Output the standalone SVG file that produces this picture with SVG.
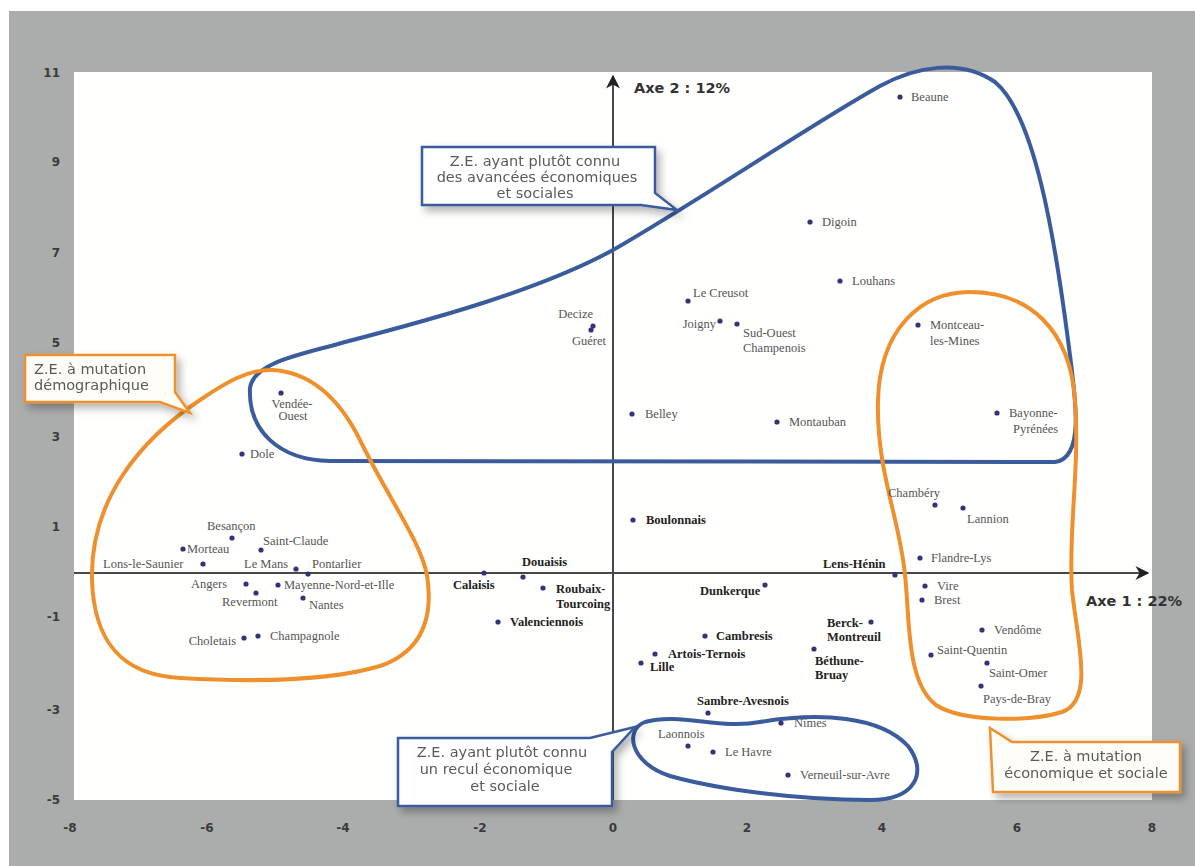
<svg xmlns="http://www.w3.org/2000/svg" width="1195" height="866" viewBox="0 0 1195 866">
<style>
.tick{font-family:"DejaVu Sans",sans-serif;font-size:12px;font-weight:bold;fill:#3a3a3a}
.axt{font-family:"DejaVu Sans",sans-serif;font-size:14.5px;font-weight:bold;fill:#333}
.co{font-family:"DejaVu Sans",sans-serif;font-size:14.5px;fill:#5a5a5a}
.lb{font-family:"Liberation Serif",serif;font-size:12.5px;fill:#555}
.bd{font-family:"Liberation Serif",serif;font-size:12.5px;font-weight:bold;fill:#222}
.pt{fill:#33337a}
.blue{fill:none;stroke:#3b5c9c;stroke-width:4}
.orange{fill:none;stroke:#ef902e;stroke-width:4}
.cb{fill:#fff;stroke:#3b5c9c;stroke-width:2.5}
.cbo{fill:#fffdf8;stroke:#ef902e;stroke-width:2.5}
.ax{stroke:#474747;stroke-width:2;fill:none}
</style>
<defs>
<marker id="arr" viewBox="0 0 10 10" refX="9" refY="5" markerWidth="7" markerHeight="7" orient="auto" markerUnits="strokeWidth">
<path d="M0,0 L10,5 L0,10 L3,5 Z" fill="#222"/>
</marker>
<filter id="sh" x="-10%" y="-20%" width="130%" height="160%">
<feDropShadow dx="4" dy="5" stdDeviation="4" flood-color="#000" flood-opacity="0.3"/>
</filter>
</defs>
<rect x="0" y="0" width="1195" height="866" fill="#fff"/>
<rect x="9" y="11" width="1186" height="855" fill="#abadac"/>
<rect x="74" y="72" width="1078" height="728" fill="#fffffd"/>
<g id="ticks">
<text class="tick" x="60" y="77" text-anchor="end">11</text>
<text class="tick" x="60" y="166" text-anchor="end">9</text>
<text class="tick" x="60" y="257" text-anchor="end">7</text>
<text class="tick" x="60" y="347" text-anchor="end">5</text>
<text class="tick" x="60" y="441" text-anchor="end">3</text>
<text class="tick" x="60" y="531" text-anchor="end">1</text>
<text class="tick" x="60" y="621" text-anchor="end">-1</text>
<text class="tick" x="60" y="714" text-anchor="end">-3</text>
<text class="tick" x="60" y="804" text-anchor="end">-5</text>
<text class="tick" x="70" y="832" text-anchor="middle">-8</text>
<text class="tick" x="207" y="832" text-anchor="middle">-6</text>
<text class="tick" x="343" y="832" text-anchor="middle">-4</text>
<text class="tick" x="480" y="832" text-anchor="middle">-2</text>
<text class="tick" x="613" y="832" text-anchor="middle">0</text>
<text class="tick" x="747" y="832" text-anchor="middle">2</text>
<text class="tick" x="882" y="832" text-anchor="middle">4</text>
<text class="tick" x="1017" y="832" text-anchor="middle">6</text>
<text class="tick" x="1152" y="832" text-anchor="middle">8</text>
</g>
<g id="connectors">
<path class="ax" d="M74,573 H1148" marker-end="url(#arr)"/>
<path class="ax" d="M613,800 V76" marker-end="url(#arr)"/>
</g>
<text class="axt" x="634" y="93">Axe 2 : 12%</text>
<text class="axt" x="1086" y="606">Axe 1 : 22%</text>
<g id="zones">
<path class="blue" d="M250,388 C254,362 300,355 345,342 C430,320 540,290 613,250 C700,200 810,125 880,86 C915,67 960,58 995,82 C1035,115 1055,240 1068,340 C1076,400 1085,458 1055,462 L330,461 C278,460 248,430 250,388 Z"/>
<path class="orange" d="M272,370 C312,372 340,400 360,440 C388,498 420,540 427,575 C434,620 420,652 380,666 C330,681 250,682 180,678 C120,675 94,640 92,580 C90,500 140,440 200,400 C225,383 248,369 272,370 Z"/>
<path class="orange" d="M970,292 C1030,292 1070,330 1075,400 C1080,470 1068,530 1072,590 C1077,640 1095,700 1062,712 C1030,722 962,722 936,705 C906,682 910,620 905,575 C900,520 876,470 878,400 C880,330 920,292 970,292 Z"/>
<path class="blue" d="M645,722 C680,712 720,730 760,722 C820,712 880,716 908,746 C928,772 916,800 870,800 C800,800 720,790 670,776 C630,763 624,730 645,722 Z"/>
</g>
<g id="callout-avancees" filter="url(#sh)">
<path class="cb" d="M422,147 H655 V193 L677,210 L641,205 H422 Z"/>
<text class="co" text-anchor="middle"><tspan x="535" y="166">Z.E. ayant plutôt connu</tspan><tspan x="537" y="182">des avancées économiques</tspan><tspan x="535" y="198">et sociales</tspan></text>
</g>
<g id="callout-demographique" filter="url(#sh)">
<path class="cbo" d="M25,355 H175 V392 L190,413 L160,402 H25 Z"/>
<text class="co"><tspan x="34" y="374">Z.E. à mutation</tspan><tspan x="34" y="390">démographique</tspan></text>
</g>
<g id="callout-recul" filter="url(#sh)">
<path class="cb" d="M398,738 H590 L635,727 L612,752 V806 H398 Z"/>
<text class="co" text-anchor="middle"><tspan x="502" y="757">Z.E. ayant plutôt connu</tspan><tspan x="496" y="774">un recul économique</tspan><tspan x="505" y="791">et sociale</tspan></text>
</g>
<g id="callout-economique" filter="url(#sh)">
<path class="cbo" d="M990,728 L1012,742 H1180 V792 H993 Z"/>
<text class="co" text-anchor="middle"><tspan x="1086" y="761">Z.E. à mutation</tspan><tspan x="1086" y="778">économique et sociale</tspan></text>
</g>
<g id="points">
<g id="beaune"><circle class="pt" cx="900" cy="97" r="2.6"/><text class="lb" x="911" y="101">Beaune</text></g>
<g id="digoin"><circle class="pt" cx="810" cy="222" r="2.6"/><text class="lb" x="822" y="226">Digoin</text></g>
<g id="louhans"><circle class="pt" cx="840" cy="281" r="2.6"/><text class="lb" x="852" y="285">Louhans</text></g>
<g id="le-creusot"><circle class="pt" cx="688" cy="301" r="2.6"/><text class="lb" x="693" y="297">Le Creusot</text></g>
<g id="joigny"><circle class="pt" cx="720" cy="321" r="2.6"/><text class="lb" x="716" y="328" text-anchor="end">Joigny</text></g>
<g id="sud-ouest-champenois"><circle class="pt" cx="737" cy="324" r="2.6"/><text class="lb"><tspan x="743" y="337">Sud-Ouest</tspan><tspan x="743" y="352">Champenois</tspan></text></g>
<g id="decize"><circle class="pt" cx="593" cy="326" r="2.6"/><text class="lb" x="593" y="318" text-anchor="end">Decize</text></g>
<g id="gueret"><circle class="pt" cx="591" cy="330" r="2.6"/><text class="lb" x="572" y="345">Guéret</text></g>
<g id="belley"><circle class="pt" cx="632" cy="414" r="2.6"/><text class="lb" x="645" y="418">Belley</text></g>
<g id="montauban"><circle class="pt" cx="777" cy="422" r="2.6"/><text class="lb" x="789" y="426">Montauban</text></g>
<g id="montceau"><circle class="pt" cx="918" cy="325" r="2.6"/><text class="lb"><tspan x="930" y="329">Montceau-</tspan><tspan x="930" y="345">les-Mines</tspan></text></g>
<g id="bayonne"><circle class="pt" cx="997" cy="413" r="2.6"/><text class="lb"><tspan x="1009" y="417">Bayonne-</tspan><tspan x="1013" y="433">Pyrénées</tspan></text></g>
<g id="vendee-ouest"><circle class="pt" cx="281" cy="393" r="2.6"/><text class="lb" text-anchor="middle"><tspan x="292" y="408">Vendée-</tspan><tspan x="293" y="420">Ouest</tspan></text></g>
<g id="dole"><circle class="pt" cx="242" cy="454" r="2.6"/><text class="lb" x="250" y="458">Dole</text></g>
<g id="chambery"><circle class="pt" cx="935" cy="505" r="2.6"/><text class="lb" x="888" y="497">Chambéry</text></g>
<g id="lannion"><circle class="pt" cx="963" cy="508" r="2.6"/><text class="lb" x="967" y="523">Lannion</text></g>
<g id="flandre-lys"><circle class="pt" cx="920" cy="558" r="2.6"/><text class="lb" x="931" y="562">Flandre-Lys</text></g>
<g id="vire"><circle class="pt" cx="925" cy="586" r="2.6"/><text class="lb" x="937" y="590">Vire</text></g>
<g id="brest"><circle class="pt" cx="922" cy="600" r="2.6"/><text class="lb" x="934" y="604">Brest</text></g>
<g id="vendome"><circle class="pt" cx="982" cy="630" r="2.6"/><text class="lb" x="994" y="634">Vendôme</text></g>
<g id="saint-quentin"><circle class="pt" cx="931" cy="655" r="2.6"/><text class="lb" x="937" y="654">Saint-Quentin</text></g>
<g id="saint-omer"><circle class="pt" cx="987" cy="663" r="2.6"/><text class="lb" x="989" y="677">Saint-Omer</text></g>
<g id="pays-de-bray"><circle class="pt" cx="981" cy="686" r="2.6"/><text class="lb" x="983" y="703">Pays-de-Bray</text></g>
<g id="nimes"><circle class="pt" cx="781" cy="723" r="2.6"/><text class="lb" x="794" y="727">Nîmes</text></g>
<g id="laonnois"><circle class="pt" cx="688" cy="746" r="2.6"/><text class="lb" x="658" y="738">Laonnois</text></g>
<g id="le-havre"><circle class="pt" cx="713" cy="752" r="2.6"/><text class="lb" x="725" y="756">Le Havre</text></g>
<g id="verneuil"><circle class="pt" cx="788" cy="775" r="2.6"/><text class="lb" x="800" y="779">Verneuil-sur-Avre</text></g>
<g id="sambre-avesnois"><circle class="pt" cx="708" cy="713" r="2.6"/><text class="bd" x="697" y="705">Sambre-Avesnois</text></g>
<g id="besancon"><circle class="pt" cx="232" cy="538" r="2.6"/><text class="lb" x="207" y="530">Besançon</text></g>
<g id="morteau"><circle class="pt" cx="183" cy="549" r="2.6"/><text class="lb" x="187" y="553">Morteau</text></g>
<g id="saint-claude"><circle class="pt" cx="261" cy="550" r="2.6"/><text class="lb" x="263" y="545">Saint-Claude</text></g>
<g id="lons-le-saunier"><circle class="pt" cx="203" cy="564" r="2.6"/><text class="lb" x="103" y="568">Lons-le-Saunier</text></g>
<g id="le-mans"><circle class="pt" cx="296" cy="569" r="2.6"/><text class="lb" x="244" y="568">Le Mans</text></g>
<g id="pontarlier"><circle class="pt" cx="308" cy="574" r="2.6"/><text class="lb" x="312" y="568">Pontarlier</text></g>
<g id="angers"><circle class="pt" cx="246" cy="584" r="2.6"/><text class="lb" x="227" y="588" text-anchor="end">Angers</text></g>
<g id="mayenne"><circle class="pt" cx="278" cy="585" r="2.6"/><text class="lb" x="284" y="589">Mayenne-Nord-et-Ille</text></g>
<g id="revermont"><circle class="pt" cx="256" cy="593" r="2.6"/><text class="lb" x="222" y="606">Revermont</text></g>
<g id="nantes"><circle class="pt" cx="303" cy="598" r="2.6"/><text class="lb" x="309" y="609">Nantes</text></g>
<g id="choletais"><circle class="pt" cx="244" cy="638" r="2.6"/><text class="lb" x="236" y="645" text-anchor="end">Choletais</text></g>
<g id="champagnole"><circle class="pt" cx="258" cy="636" r="2.6"/><text class="lb" x="270" y="640">Champagnole</text></g>
<g id="douaisis"><circle class="pt" cx="523" cy="577" r="2.6"/><text class="bd" x="522" y="566">Douaisis</text></g>
<g id="calaisis"><circle class="pt" cx="484" cy="573" r="2.6"/><text class="bd" x="453" y="589">Calaisis</text></g>
<g id="roubaix"><circle class="pt" cx="543" cy="588" r="2.6"/><text class="bd"><tspan x="556" y="593">Roubaix-</tspan><tspan x="556" y="608">Tourcoing</tspan></text></g>
<g id="valenciennois"><circle class="pt" cx="498" cy="622" r="2.6"/><text class="bd" x="510" y="626">Valenciennois</text></g>
<g id="boulonnais"><circle class="pt" cx="633" cy="520" r="2.6"/><text class="bd" x="646" y="524">Boulonnais</text></g>
<g id="lens-henin"><circle class="pt" cx="895" cy="575" r="2.6"/><text class="bd" x="823" y="568">Lens-Hénin</text></g>
<g id="dunkerque"><circle class="pt" cx="765" cy="585" r="2.6"/><text class="bd" x="700" y="595">Dunkerque</text></g>
<g id="cambresis"><circle class="pt" cx="705" cy="636" r="2.6"/><text class="bd" x="716" y="640">Cambresis</text></g>
<g id="artois-ternois"><circle class="pt" cx="655" cy="654" r="2.6"/><text class="bd" x="668" y="658">Artois-Ternois</text></g>
<g id="lille"><circle class="pt" cx="641" cy="663" r="2.6"/><text class="bd" x="650" y="671">Lille</text></g>
<g id="berck-montreuil"><circle class="pt" cx="871" cy="622" r="2.6"/><text class="bd"><tspan x="827" y="627">Berck-</tspan><tspan x="827" y="641">Montreuil</tspan></text></g>
<g id="bethune-bruay"><circle class="pt" cx="814" cy="649" r="2.6"/><text class="bd"><tspan x="815" y="665">Béthune-</tspan><tspan x="815" y="679">Bruay</tspan></text></g>
</g>
</svg>
